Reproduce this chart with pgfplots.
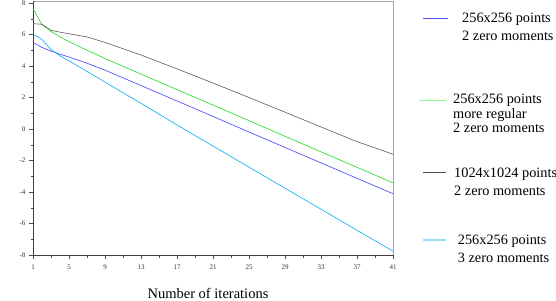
\documentclass[border=0pt]{standalone}
\usepackage{pgfplots}
\pgfplotsset{compat=1.18}
\usepackage{fontspec}
\setmainfont{Liberation Serif}
\pgfplotstableread{
x y
1 5.49
2 5.18
3 4.95
4 4.75
5 4.57
7 4.18
9 3.74
13 2.76
17 1.78
21 0.80
25 -0.19
29 -1.17
33 -2.15
37 -3.13
41 -4.11
}\blueA
\pgfplotstableread{
x y
1 7.65
2 6.63
3 6.20
4 5.85
5 5.55
7 5.00
9 4.48
13 3.49
17 2.50
21 1.52
25 0.53
29 -0.46
33 -1.45
37 -2.43
41 -3.42
}\greenB
\pgfplotstableread{
x y
1 6.69
2 6.65
3 6.27
4 6.15
5 6.05
7 5.85
9 5.50
13 4.70
17 3.82
21 2.92
25 2.00
29 1.07
33 0.13
37 -0.80
41 -1.60
}\blackC
\pgfplotstableread{
x y
1 6.02
2 5.69
3 5.05
4 4.65
5 4.33
7 3.66
9 2.98
13 1.63
17 0.26
21 -1.08
25 -2.42
29 -3.76
33 -5.09
37 -6.43
41 -7.76
}\cyanD
\begin{document}
\begin{tikzpicture}[x=1pt,y=1pt]
\useasboundingbox (0,0) rectangle (556,300);
\begin{axis}[
  at={(33pt,45pt)}, anchor=south west,
  scale only axis, width=360pt, height=254pt,
  xmin=1, xmax=41, ymin=-8, ymax=8.13,
  xtick={1,5,...,41}, ytick={-8,-6,...,8},
  minor x tick num=1, minor y tick num=1,
  xtick pos=left, ytick pos=left,
  tick align=outside,
  major tick length=4pt, minor tick length=2.5pt,
  every tick/.style={black!70, line width=0.5pt},
  axis line style={draw=none},
  /pgf/number format/assume math mode=true,
  tick label style={font=\fontsize{7}{8}\selectfont, text=black!80},
  xticklabel style={yshift=-2pt},
  clip=false,
]
\draw[black!35, line width=0.6pt] (rel axis cs:0,1) -- (rel axis cs:1,1) -- (rel axis cs:1,0);
\draw[black!75, line width=0.6pt] (rel axis cs:0,1) -- (rel axis cs:0,0) -- (rel axis cs:1,0);
\addplot[blue!75, line width=0.6pt] table[x=x,y=y] {\blueA};
\addplot[green!85!black!90, line width=0.6pt] table[x=x,y=y] {\greenB};
\addplot[black!65, line width=0.6pt] table[x=x,y=y] {\blackC};
\addplot[cyan, line width=0.6pt] table[x=x,y=y] {\cyanD};
\end{axis}
\node[font=\fontsize{14.5}{16}\selectfont, anchor=base, inner sep=0pt] at (208,300-298) {Number of iterations};
\begin{scope}[font=\fontsize{14.3}{16}\selectfont]
\draw[blue!70, line width=0.6pt] (423,300-18.3) -- (448,300-18.3);
\node[anchor=base west, inner sep=0pt] at (462,300-22.7) {256x256 points};
\node[anchor=base west, inner sep=0pt] at (462,300-41) {2 zero moments};
\draw[green!45, line width=0.6pt] (419,300-100) -- (446,300-100);
\node[anchor=base west, inner sep=0pt] at (453,300-104) {256x256 points};
\node[anchor=base west, inner sep=0pt] at (453,300-118.5) {more regular};
\node[anchor=base west, inner sep=0pt] at (453,300-133) {2 zero moments};
\draw[black!70, line width=0.6pt] (423,300-172.7) -- (446,300-172.7);
\node[anchor=base west, inner sep=0pt] at (454,300-177.3) {1024x1024 points};
\node[anchor=base west, inner sep=0pt] at (454,300-195) {2 zero moments};
\draw[cyan!40, line width=1.5pt] (423,300-240) -- (446,300-240);
\node[anchor=base west, inner sep=0pt] at (457.7,300-244) {256x256 points};
\node[anchor=base west, inner sep=0pt] at (457.7,300-262.5) {3 zero moments};
\end{scope}
\end{tikzpicture}
\end{document}
